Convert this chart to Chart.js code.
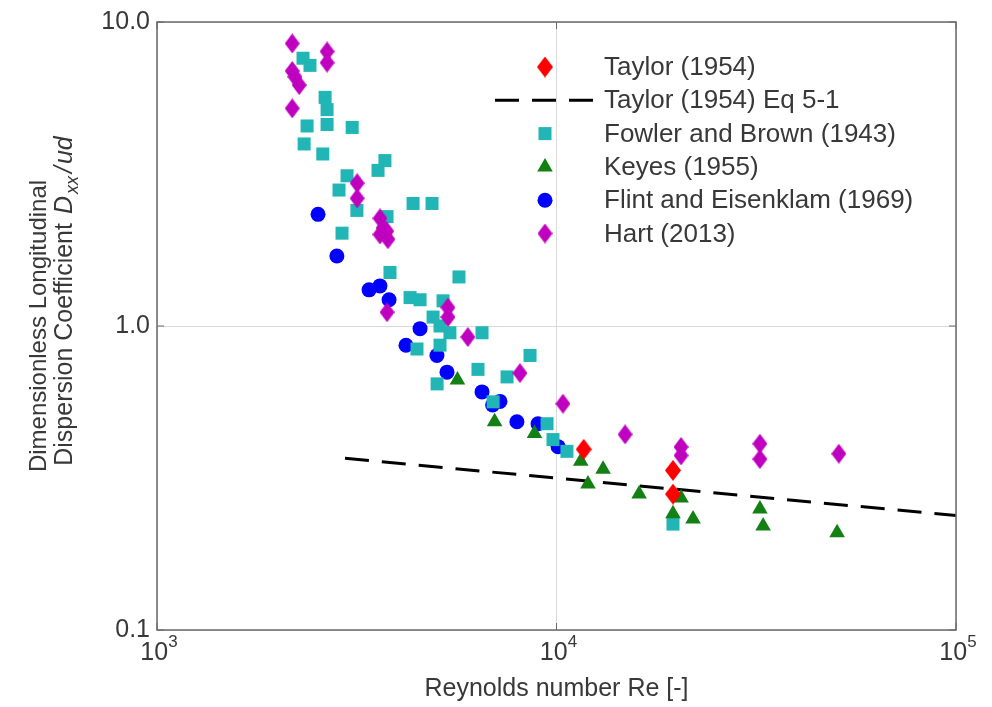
<!DOCTYPE html>
<html>
<head>
<meta charset="utf-8">
<script src="https://cdn.jsdelivr.net/npm/chart.js@4.4.0/dist/chart.umd.min.js"></script>
<style>
  html, body { margin: 0; padding: 0; background: #fff; }
</style>
</head>
<body>
<canvas id="dispersion" width="992" height="707"></canvas>
<script>
// values: Reynolds number (x) and D_xx/ud (y)
const taylorRe = [11700, 19570, 19570];
const taylorD = [0.393, 0.335, 0.28];

const taylorEqRe = [2955, 100000];
const taylorEqD = [0.367, 0.238];

const fowlerRe = [2320, 2415, 2635, 2665, 2665, 2375, 3080, 2335, 2600, 3720, 3575, 2990, 2855,
  3165, 4375, 4880, 3765, 2905, 3830, 5700, 4300, 4555, 5200, 4910, 5110, 5410, 6510, 4475,
  5110, 8585, 6360, 7520, 5025, 6940, 9470, 9800, 10620, 19570];
const fowlerD = [7.6, 7.2, 5.65, 5.15, 4.6, 4.55, 4.5, 3.97, 3.68, 3.5, 3.25, 3.12, 2.8,
  2.4, 2.53, 2.53, 2.29, 2.02, 1.5, 1.45, 1.24, 1.22, 1.21, 1.07, 1.0, 0.95, 0.95, 0.84,
  0.865, 0.8, 0.72, 0.68, 0.645, 0.563, 0.477, 0.423, 0.387, 0.223];

const keyesRe = [5650, 7000, 8810, 11500, 13080, 11990, 16100, 20500, 19570, 21970, 32300, 32900, 50400];
const keyesD = [0.664, 0.484, 0.443, 0.359, 0.338, 0.302, 0.28, 0.272, 0.241, 0.232, 0.25, 0.22, 0.209];

const flintRe = [2530, 2820, 3395, 3615, 3810, 4555, 4200, 5020, 5320, 6510, 7220, 6920, 7960, 8990, 10090];
const flintD = [2.33, 1.7, 1.315, 1.355, 1.22, 0.98, 0.864, 0.8, 0.705, 0.607, 0.565, 0.55, 0.484, 0.477, 0.401];

const hartRe = [2180, 2180, 2215, 2270, 2180, 2665, 2665, 3170, 3170, 3615, 3680, 3615, 3785, 3760,
  3765, 5350, 5350, 6000, 8100, 10380, 14850, 20500, 20500, 32300, 32300, 50900];
const hartD = [8.5, 6.9, 6.6, 6.2, 5.2, 8.0, 7.35, 2.95, 2.63, 2.26, 2.1, 2.0, 1.93, 2.05,
  1.11, 1.15, 1.07, 0.92, 0.7, 0.555, 0.44, 0.4, 0.375, 0.41, 0.365, 0.38];

const seriesNames = ['Taylor (1954)', 'Taylor (1954) Eq 5-1', 'Fowler and Brown (1943)',
  'Keyes (1955)', 'Flint and Eisenklam (1969)', 'Hart (2013)'];

const xTickValues = [1e3, 1e4, 1e5];
const xTickExps = ['3', '4', '5'];
const yTickValues = [0.1, 1, 10];
const yTickLabels = ['0.1', '1.0', '10.0'];

const FONT = '"Liberation Sans", Arial, Helvetica, sans-serif';
const TEXT = '#383838';

const pts = (xs, ys) => xs.map((x, i) => ({ x: x, y: ys[i] }));

// matlab style diamond, a bit taller than wide
function diamond(color, w, h) {
  const c = document.createElement('canvas');
  c.width = w;
  c.height = h;
  const g = c.getContext('2d');
  g.fillStyle = color;
  g.beginPath();
  g.moveTo(w / 2, 0);
  g.lineTo(w, h / 2);
  g.lineTo(w / 2, h);
  g.lineTo(0, h / 2);
  g.closePath();
  g.fill();
  return c;
}

const axesPlugin = {
  id: 'axesText',
  afterDraw(chart) {
    const ctx = chart.ctx;
    const a = chart.chartArea;
    const xs = chart.scales.x;
    const ys = chart.scales.y;
    ctx.save();

    // box + inward ticks
    ctx.strokeStyle = '#6a6a6a';
    ctx.lineWidth = 1.5;
    ctx.strokeRect(a.left, a.top, a.right - a.left, a.bottom - a.top);
    ctx.lineWidth = 1;
    ctx.beginPath();
    xTickValues.forEach(v => {
      const p = xs.getPixelForValue(v);
      ctx.moveTo(p, a.bottom); ctx.lineTo(p, a.bottom - 7);
      ctx.moveTo(p, a.top); ctx.lineTo(p, a.top + 7);
    });
    yTickValues.forEach(v => {
      const p = ys.getPixelForValue(v);
      ctx.moveTo(a.left, p); ctx.lineTo(a.left + 7, p);
      ctx.moveTo(a.right, p); ctx.lineTo(a.right - 7, p);
    });
    ctx.stroke();

    ctx.fillStyle = TEXT;
    ctx.textBaseline = 'alphabetic';
    ctx.textAlign = 'left';

    // x tick labels 10^n
    xTickValues.forEach((v, i) => {
      const p = xs.getPixelForValue(v);
      ctx.font = '25px ' + FONT;
      const w1 = ctx.measureText('10').width;
      ctx.font = '17px ' + FONT;
      const w2 = ctx.measureText(xTickExps[i]).width;
      const x0 = p - (w1 + w2) / 2 + 2;
      ctx.font = '25px ' + FONT;
      ctx.fillText('10', x0, 660);
      ctx.font = '17px ' + FONT;
      ctx.fillText(xTickExps[i], x0 + w1, 647);
    });

    // x title
    ctx.font = '25px ' + FONT;
    ctx.textAlign = 'center';
    ctx.fillText('Reynolds number Re [-]', (a.left + a.right) / 2, 696);

    // y title, two rotated lines
    ctx.save();
    ctx.translate(46, 326);
    ctx.rotate(-Math.PI / 2);
    ctx.font = '24px ' + FONT;
    ctx.textAlign = 'center';
    ctx.fillText('Dimensionless Longitudinal', 0, 0);
    ctx.restore();

    const parts = [
      { t: 'Dispersion Coefficient', f: '25px ' + FONT, dy: 0, gap: 9 },
      { t: 'D', f: 'italic 25px ' + FONT, dy: 0, gap: 2 },
      { t: 'xx', f: 'italic 18px ' + FONT, dy: 6, gap: 3 },
      { t: '/', f: 'italic 25px ' + FONT, dy: 0, gap: 2 },
      { t: 'ud', f: 'italic 25px ' + FONT, dy: 0, gap: 0 }
    ];
    let total = 0;
    parts.forEach(p => { ctx.font = p.f; p.w = ctx.measureText(p.t).width; total += p.w + p.gap; });
    ctx.save();
    ctx.translate(72, 301);
    ctx.rotate(-Math.PI / 2);
    ctx.textAlign = 'left';
    let cx = -total / 2;
    parts.forEach(p => {
      ctx.font = p.f;
      ctx.fillText(p.t, cx, p.dy);
      cx += p.w + p.gap;
    });
    ctx.restore();

    // legend
    const rowY0 = 67;
    const rowGap = 33.3;
    ctx.textAlign = 'left';
    ctx.textBaseline = 'middle';
    ctx.font = '26px ' + FONT;
    chart.data.datasets.forEach((ds, i) => {
      const yy = rowY0 + i * rowGap;
      if (ds.showLine) {
        ctx.save();
        ctx.strokeStyle = ds.borderColor;
        ctx.lineWidth = ds.borderWidth;
        ctx.setLineDash(ds.borderDash);
        ctx.beginPath();
        ctx.moveTo(495, yy);
        ctx.lineTo(596, yy);
        ctx.stroke();
        ctx.restore();
      } else {
        ctx.save();
        ctx.fillStyle = ds.backgroundColor;
        Chart.helpers.drawPoint(ctx, {
          pointStyle: ds.pointStyle,
          radius: ds.pointRadius,
          rotation: 0,
          borderWidth: 0
        }, 545, yy);
        ctx.restore();
      }
      ctx.fillStyle = TEXT;
      ctx.fillText(ds.label, 604, yy + 1);
    });

    ctx.restore();
  }
};

const ctx = document.getElementById('dispersion').getContext('2d');

new Chart(ctx, {
  type: 'scatter',
  data: {
    datasets: [
      {
        label: seriesNames[0],
        data: pts(taylorRe, taylorD),
        pointStyle: diamond('#ff0000', 16, 21),
        pointRadius: 8,
        backgroundColor: '#ff0000',
        borderColor: '#ff0000',
        pointBorderWidth: 0,
        order: 0
      },
      {
        label: seriesNames[1],
        data: pts(taylorEqRe, taylorEqD),
        showLine: true,
        borderColor: '#000000',
        backgroundColor: '#000000',
        borderWidth: 3,
        borderDash: [24, 13],
        pointRadius: 0,
        order: 6
      },
      {
        label: seriesNames[2],
        data: pts(fowlerRe, fowlerD),
        pointStyle: 'rect',
        pointRadius: 9.2,
        backgroundColor: '#22b5b5',
        borderColor: '#22b5b5',
        pointBorderWidth: 0,
        order: 3
      },
      {
        label: seriesNames[3],
        data: pts(keyesRe, keyesD),
        pointStyle: 'triangle',
        pointRadius: 9,
        backgroundColor: '#138013',
        borderColor: '#138013',
        pointBorderWidth: 0,
        order: 2
      },
      {
        label: seriesNames[4],
        data: pts(flintRe, flintD),
        pointStyle: 'circle',
        pointRadius: 7.5,
        backgroundColor: '#0000ff',
        borderColor: '#0000ff',
        pointBorderWidth: 0,
        order: 4
      },
      {
        label: seriesNames[5],
        data: pts(hartRe, hartD),
        pointStyle: diamond('#bf00bf', 15, 20),
        pointRadius: 8,
        backgroundColor: '#bf00bf',
        borderColor: '#bf00bf',
        pointBorderWidth: 0,
        order: 1
      }
    ]
  },
  options: {
    responsive: false,
    animation: false,
    devicePixelRatio: 1,
    layout: { padding: { top: 17, right: 36, left: 0, bottom: 0 } },
    plugins: {
      legend: { display: false },
      tooltip: { enabled: false }
    },
    scales: {
      x: {
        type: 'logarithmic',
        min: 1e3,
        max: 1e5,
        afterBuildTicks: s => { s.ticks = xTickValues.map(v => ({ value: v })); },
        afterFit: s => { s.height = 77; },
        ticks: { display: false },
        grid: { color: '#dadada', lineWidth: 1, drawTicks: false },
        border: { display: false }
      },
      y: {
        type: 'logarithmic',
        min: 0.1,
        max: 10,
        afterBuildTicks: s => { s.ticks = yTickValues.map(v => ({ value: v })); },
        afterFit: s => { s.width = 157; },
        ticks: {
          color: TEXT,
          font: { family: FONT, size: 25 },
          padding: 7,
          callback: v => yTickLabels[yTickValues.indexOf(v)]
        },
        grid: { color: '#dadada', lineWidth: 1, drawTicks: false },
        border: { display: false }
      }
    }
  },
  plugins: [axesPlugin]
});
</script>
</body>
</html>
